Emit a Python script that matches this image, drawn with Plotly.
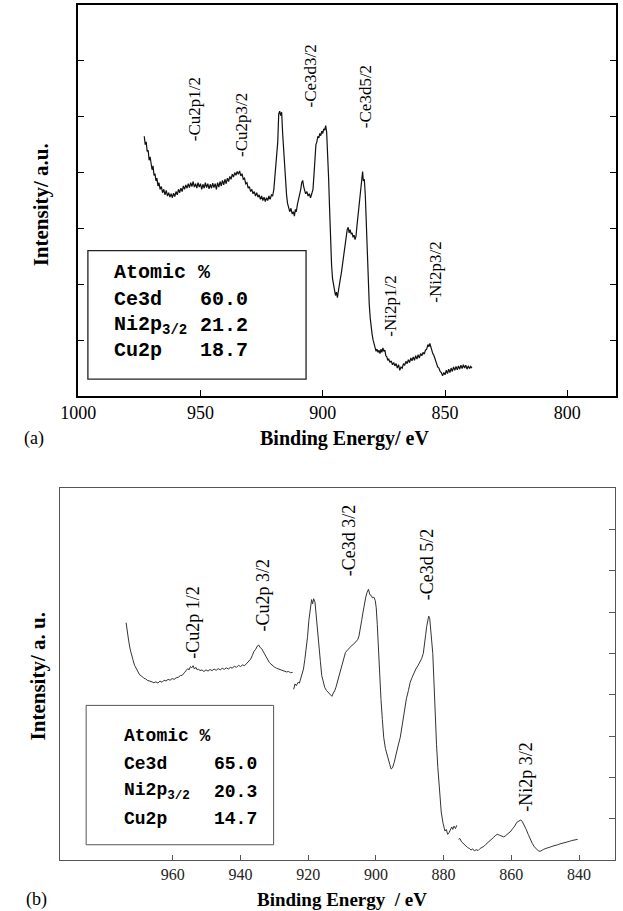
import plotly.graph_objects as go

W, H = 623, 911

# ---------------- Panel (a) data ----------------
be_a = [973.0, 972.6, 972.2, 971.8, 971.4, 971.0, 970.6, 970.2, 969.8, 969.4, 969.0, 968.6, 968.2, 967.8,
        967.4, 967.0, 966.5, 966.0, 965.5, 965.0, 964.5, 964.0, 963.5, 963.0, 962.5, 962.0, 961.5, 961.0,
        960.5, 960.0, 959.5, 959.0, 958.5, 958.0, 957.5, 957.0, 956.5, 956.0, 955.5, 955.0, 954.5, 954.0,
        953.5, 953.0, 952.5, 952.0, 951.5, 951.0, 950.5, 950.0, 949.5, 949.0, 948.5, 948.0, 947.5, 947.0,
        946.5, 946.0, 945.5, 945.0, 944.5, 944.0, 943.5, 943.0, 942.5, 942.0, 941.5, 941.0, 940.5, 940.0,
        939.5, 939.0, 938.5, 938.0, 937.5, 937.0, 936.5, 936.0, 935.5, 935.0, 934.5, 934.0, 933.5, 933.0,
        932.5, 932.0, 931.5, 931.0, 930.5, 930.0, 929.5, 929.0, 928.5, 928.0, 927.5, 927.0, 926.5, 926.0,
        925.5, 925.0, 924.5, 924.0, 923.5, 923.0, 922.5, 922.0, 921.5, 921.0, 920.5, 920.0, 919.6, 919.2,
        918.8, 918.4, 918.0, 917.6, 917.2, 916.8, 916.4, 916.0, 915.6, 915.2, 914.8, 914.4, 914.0, 913.5,
        913.0, 912.5, 912.0, 911.6, 911.2, 910.8, 910.4, 910.0, 909.5, 909.0, 908.6, 908.2, 907.8, 907.4,
        907.0, 906.5, 906.0, 905.5, 905.0, 904.5, 904.0, 903.6, 903.2, 902.8, 902.4, 902.0, 901.6, 901.2,
        900.8, 900.4, 900.0, 899.6, 899.2, 898.8, 898.4, 898.0, 897.6, 897.2, 896.8, 896.4, 896.0, 895.6,
        895.2, 894.8, 894.4, 894.0, 893.6, 893.2, 892.8, 892.4, 892.0, 891.6, 891.2, 890.8, 890.4, 890.0,
        889.6, 889.2, 888.8, 888.4, 888.0, 887.6, 887.2, 886.8, 886.4, 886.0, 885.6, 885.2, 884.8, 884.4,
        884.0, 883.7, 883.4, 883.0, 882.6, 882.2, 881.8, 881.4, 881.0, 880.6, 880.2, 879.8, 879.4, 879.0,
        878.6, 878.2, 877.8, 877.4, 877.0, 876.6, 876.2, 875.8, 875.4, 875.0, 874.6, 874.2, 873.8, 873.4,
        873.0, 872.5, 872.0, 871.5, 871.0, 870.5, 870.0, 869.5, 869.0, 868.5, 868.0, 867.5, 867.0, 866.5,
        866.0, 865.5, 865.0, 864.5, 864.0, 863.5, 863.0, 862.5, 862.0, 861.5, 861.0, 860.5, 860.0, 859.5,
        859.0, 858.5, 858.0, 857.5, 857.0, 856.6, 856.2, 855.8, 855.4, 855.0, 854.5, 854.0, 853.5, 853.0,
        852.5, 852.0, 851.5, 851.0, 850.5, 850.0, 849.5, 849.0, 848.5, 848.0, 847.5, 847.0, 846.5, 846.0,
        845.5, 845.0, 844.5, 844.0, 843.5, 843.0, 842.5, 842.0, 841.5, 841.0, 840.5, 840.0, 839.5, 839.0]
int_a = [4.65, 4.50, 4.55, 4.38, 4.40, 4.22, 4.28, 4.10, 4.05, 4.12, 3.95, 3.98, 3.85, 3.90,
         3.76, 3.82, 3.70, 3.75, 3.64, 3.70, 3.60, 3.68, 3.58, 3.64, 3.56, 3.62, 3.55, 3.63,
         3.57, 3.66, 3.60, 3.70, 3.64, 3.72, 3.66, 3.76, 3.70, 3.78, 3.72, 3.80, 3.73, 3.82,
         3.75, 3.84, 3.74, 3.80, 3.72, 3.82, 3.74, 3.80, 3.70, 3.79, 3.72, 3.82, 3.73, 3.80,
         3.71, 3.79, 3.72, 3.81, 3.73, 3.80, 3.70, 3.82, 3.74, 3.84, 3.76, 3.86, 3.78, 3.88,
         3.80, 3.90, 3.84, 3.93, 3.88, 3.97, 3.92, 4.00, 3.95, 4.02, 3.97, 4.03, 3.94, 3.98,
         3.88, 3.90, 3.80, 3.82, 3.72, 3.75, 3.66, 3.70, 3.62, 3.66, 3.58, 3.64, 3.56, 3.60,
         3.52, 3.58, 3.50, 3.56, 3.48, 3.55, 3.50, 3.58, 3.52, 3.60, 3.58, 3.70, 3.88, 4.10,
         4.30, 4.55, 5.05, 5.10, 5.02, 5.08, 4.70, 4.40, 4.05, 3.80, 3.60, 3.45, 3.38, 3.30,
         3.36, 3.26, 3.30, 3.22, 3.34, 3.30, 3.42, 3.50, 3.56, 3.70, 3.82, 3.86, 3.75, 3.70,
         3.62, 3.66, 3.58, 3.62, 3.55, 3.62, 3.70, 3.95, 4.30, 4.50, 4.55, 4.65, 4.62, 4.70,
         4.66, 4.74, 4.70, 4.78, 4.76, 4.84, 4.72, 4.40, 3.90, 3.35, 2.75, 2.35, 2.10, 1.98,
         1.90, 1.80, 1.86, 1.76, 1.88, 1.96, 2.10, 2.20, 2.35, 2.48, 2.58, 2.70, 2.85, 2.98,
         3.02, 2.92, 2.98, 2.90, 2.92, 2.84, 2.88, 2.80, 2.86, 3.05, 3.22, 3.40, 3.60, 3.82,
         3.92, 4.02, 3.85, 3.88, 3.60, 3.00, 2.45, 1.95, 1.65, 1.40, 1.22, 1.10, 1.00, 0.92,
         0.86, 0.80, 0.84, 0.78, 0.82, 0.76, 0.84, 0.78, 0.86, 0.80, 0.82, 0.72, 0.70, 0.64,
         0.66, 0.60, 0.63, 0.56, 0.60, 0.54, 0.58, 0.50, 0.56, 0.46, 0.52, 0.50, 0.58, 0.55,
         0.62, 0.58, 0.65, 0.60, 0.68, 0.63, 0.70, 0.64, 0.72, 0.66, 0.74, 0.68, 0.76, 0.72,
         0.78, 0.75, 0.82, 0.84, 0.92, 0.88, 0.94, 0.86, 0.84, 0.76, 0.72, 0.64, 0.60, 0.52,
         0.50, 0.44, 0.42, 0.36, 0.42, 0.38, 0.46, 0.40, 0.48, 0.42, 0.50, 0.44, 0.52, 0.46,
         0.53, 0.47, 0.54, 0.48, 0.55, 0.49, 0.56, 0.50, 0.55, 0.48, 0.54, 0.49, 0.53, 0.50]

peaks_a = ["-Cu2p1/2", "-Cu2p3/2", "-Ce3d3/2", "-Ce3d5/2", "-Ni2p1/2", "-Ni2p3/2"]
peaks_a_x = [952.4, 933.3, 904.8, 882.5, 872.2, 854.0]
peaks_a_y = [4.52, 4.25, 5.12, 4.76, 1.03, 1.63]

comp_a_names = ["Ce3d", "Ni2p<sub>3/2</sub>", "Cu2p"]
comp_a_vals = ["60.0", "21.2", "18.7"]

xticks_a = [1000, 950, 900, 850, 800]
yticks_a = [1, 2, 3, 4, 5, 6]

# ---------------- Panel (b) data ----------------
be_b = [973.8, 973.4, 973.0, 972.6, 972.2, 971.8, 971.3, 970.8, 970.3, 969.8, 969.2, 968.6, 968.0, 967.4,
        966.8, 966.2, 965.6, 965.0, 964.4, 963.8, 963.2, 962.6, 962.0, 961.4, 960.8, 960.2, 959.6, 959.0,
        958.4, 957.8, 957.2, 956.6, 956.0, 955.6, 955.2, 954.8, 954.4, 954.0, 953.6, 953.2, 952.8, 952.4,
        952.0, 951.4, 950.8, 950.2, 949.6, 949.0, 948.4, 947.8, 947.2, 946.6, 946.0, 945.4, 944.8, 944.2,
        943.6, 943.0, 942.4, 941.8, 941.2, 940.6, 940.0, 939.4, 938.8, 938.2, 937.6, 937.0, 936.5, 936.0,
        935.5, 935.0, 934.6, 934.2, 933.8, 933.4, 933.0, 932.5, 932.0, 931.5, 931.0, 930.5, 930.0, 929.4,
        928.8, 928.2, 927.6, 927.0, 926.4, 925.8, 925.2, 924.6, None,
        924.3, 923.9, 923.5, 923.0, 922.6, 922.2, 921.8, 921.4, 921.0, 920.6, 920.2, 919.8, 919.4, 919.0,
        918.7, 918.4, 918.0, 917.7, 917.4, 917.1, 916.8, 916.4, 916.0, 915.6, 915.1, 914.6, 914.2, 913.8,
        913.4, 913.0, 912.6, 912.2, 911.8, 911.4, 911.0, 910.6, 910.2, 909.8, 909.4, 909.0, 908.6, 908.2,
        907.8, 907.4, 907.0, 906.6, 906.2, 905.8, 905.4, 905.0, 904.6, 904.2, 903.8, 903.4, 903.0, 902.6,
        902.2, 901.8, 901.4, 901.0, 900.6, 900.2, 899.9, 899.6, 899.3, 898.9, 898.5, 898.1, 897.7, 897.2,
        896.8, 896.3, 895.9, 895.5, 895.1, 894.6, 894.0, 893.4, 892.8, 892.2, 891.6, 891.0, 890.4, 889.9,
        889.3, 888.8, 888.2, 887.6, 887.0, 886.5, 886.0, 885.6, 885.3, 885.0, 884.7, 884.4, 884.1, 883.8,
        883.5, 883.2, 882.9, 882.5, 882.1, 881.7, 881.2, 880.7, 880.2, 879.6, 879.2, 878.8, 878.4, 878.0,
        877.6, 877.3, 876.9, 876.5, 876.1, None,
        875.6, 875.2, 874.7, 874.2, 873.9, 873.4, 872.9, 872.4, 871.9, 871.4, 870.9, 870.4, 869.8, 869.2,
        868.6, 868.1, 867.5, 866.9, 866.3, 865.8, 865.2, 864.6, 864.1, 863.5, 862.9, 862.3, 861.8, 861.2,
        860.6, 860.1, 859.6, 859.0, 858.4, 857.8, 857.2, 856.7, 856.1, 855.6, 855.0, 854.4, 853.8, 853.2,
        852.6, 852.0, 851.5, 851.0, 850.4, 849.8, 849.2, 848.6, 848.0, 847.4, 846.8, 846.3, 845.6, 845.0,
        844.4, 843.6, 842.9, 842.2, 841.4, 840.4]
int_b = [5.74, 5.45, 5.28, 5.10, 4.95, 4.85, 4.71, 4.62, 4.56, 4.48, 4.45, 4.40, 4.38, 4.34,
         4.33, 4.30, 4.29, 4.31, 4.28, 4.33, 4.30, 4.35, 4.33, 4.37, 4.35, 4.39, 4.37, 4.41,
         4.42, 4.46, 4.47, 4.53, 4.58, 4.63, 4.60, 4.68, 4.65, 4.70, 4.62, 4.66, 4.60, 4.62,
         4.58, 4.60, 4.56, 4.60, 4.57, 4.61, 4.58, 4.62, 4.59, 4.63, 4.60, 4.64, 4.61, 4.65,
         4.62, 4.66, 4.64, 4.69, 4.66, 4.71, 4.68, 4.72, 4.70, 4.76, 4.80, 4.86, 4.95, 5.05,
         5.10, 5.18, 5.20, 5.14, 5.12, 5.06, 4.98, 4.90, 4.84, 4.78, 4.74, 4.70, 4.67, 4.64,
         4.62, 4.60, 4.58, 4.57, 4.55, 4.56, 4.53, 4.54, None,
         4.13, 4.26, 4.22, 4.30, 4.28, 4.38, 4.48, 4.62, 4.85, 5.10, 5.40, 5.80, 6.05, 6.30,
         6.20, 6.32, 6.24, 6.00, 5.78, 5.45, 5.12, 4.80, 4.46, 4.30, 4.17, 4.10, 4.07, 4.02,
         4.00, 3.96, 4.04, 4.09, 4.18, 4.30, 4.40, 4.52, 4.66, 4.80, 4.90, 5.02, 5.06, 5.10,
         5.14, 5.18, 5.20, 5.22, 5.26, 5.28, 5.33, 5.42, 5.58, 5.80, 6.00, 6.20, 6.36, 6.48,
         6.55, 6.42, 6.40, 6.34, 6.36, 6.28, 6.10, 5.70, 5.12, 4.50, 3.88, 3.40, 2.97, 2.70,
         2.56, 2.40, 2.31, 2.20, 2.23, 2.36, 2.60, 2.78, 2.97, 3.30, 3.63, 3.90, 4.10, 4.29,
         4.42, 4.52, 4.62, 4.70, 4.78, 4.87, 5.00, 5.20, 5.45, 5.65, 5.80, 5.90, 5.84, 5.60,
         5.30, 5.00, 4.40, 3.47, 2.80, 2.23, 1.65, 1.16, 0.90, 0.70, 0.74, 0.62, 0.66, 0.72,
         0.80, 0.74, 0.82, 0.76, 0.84, None,
         0.50, 0.52, 0.44, 0.40, 0.37, 0.34, 0.30, 0.28, 0.24, 0.27, 0.22, 0.25, 0.23, 0.28,
         0.30, 0.33, 0.38, 0.42, 0.47, 0.50, 0.55, 0.60, 0.62, 0.60, 0.58, 0.56, 0.58, 0.62,
         0.66, 0.70, 0.76, 0.82, 0.91, 0.94, 0.97, 0.92, 0.83, 0.74, 0.62, 0.50, 0.40, 0.32,
         0.26, 0.22, 0.21, 0.24, 0.26, 0.28, 0.29, 0.31, 0.33, 0.34, 0.36, 0.37, 0.39, 0.40,
         0.42, 0.44, 0.45, 0.47, 0.48, 0.50]

peaks_b = ["-Cu2p 1/2", "-Cu2p 3/2", "-Ce3d 3/2", "-Ce3d 5/2", "-Ni2p 3/2"]
peaks_b_x = [954.1, 933.4, 908.0, 884.7, 855.5]
peaks_b_y = [4.83, 5.49, 6.81, 6.23, 1.11]

comp_b_names = ["Ce3d", "Ni2p<sub>3/2</sub>", "Cu2p"]
comp_b_vals = ["65.0", "20.3", "14.7"]

xticks_b = [960, 940, 920, 900, 880, 860, 840]
yticks_b = [1, 2, 3, 4, 5, 6, 7, 8]

# ---------------- layout geometry (pixels) ----------------
def px_x(p):
    return p / W

def px_y(p):
    return 1 - p / H

A_L, A_R, A_T, A_B = 62, 616, 5, 396
B_L, B_R, B_T, B_B = 43, 615, 488, 860

SERIF = "Liberation Serif"
MONO = "Liberation Mono"

fig = go.Figure()
fig.add_trace(go.Scatter(x=be_a, y=int_a, mode="lines", xaxis="x", yaxis="y",
                         line=dict(color="#111111", width=1.2), showlegend=False))
fig.add_trace(go.Scatter(x=be_b, y=int_b, mode="lines", xaxis="x2", yaxis="y2",
                         line=dict(color="#333333", width=1.0), showlegend=False,
                         connectgaps=False))

axis_common = dict(showgrid=False, zeroline=False, showline=True, linecolor="black",
                   ticks="inside", tickcolor="black")
axis_gray = {**axis_common, "linecolor": "#555555", "tickcolor": "#555555"}

fig.update_layout(
    width=W, height=H, margin=dict(l=0, r=0, t=0, b=0),
    paper_bgcolor="white", plot_bgcolor="white",
    xaxis=dict(domain=[px_x(A_L), px_x(A_R)], range=[1000, 780], anchor="y",
               tickvals=xticks_a, ticklen=6, linewidth=1.5, mirror=True,
               tickfont=dict(family=SERIF, size=18, color="black"), **axis_common),
    yaxis=dict(domain=[px_y(A_B), px_y(A_T)], range=[0, 7], anchor="x",
               tickvals=yticks_a, ticklen=6, linewidth=1.5, mirror="ticks",
               showticklabels=False, **axis_common),
    xaxis2=dict(domain=[px_x(B_L), px_x(B_R)], range=[993.4, 829.3], anchor="y2",
                tickvals=xticks_b, ticklen=5, linewidth=1.2, mirror=True,
                tickfont=dict(family=SERIF, size=16, color="#222222"), **axis_gray),
    yaxis2=dict(domain=[px_y(B_B), px_y(B_T)], range=[0, 9], anchor="x2", side="right",
                tickvals=yticks_b, ticklen=6, linewidth=1.2, mirror=True,
                showticklabels=False, **axis_gray),
)

ann = []
# peak labels
for t, x, y in zip(peaks_a, peaks_a_x, peaks_a_y):
    ann.append(dict(x=x, y=y, xref="x", yref="y", text=t, textangle=-90, showarrow=False,
                    xanchor="center", yanchor="bottom",
                    font=dict(family=SERIF, size=17, color="black")))
for t, x, y in zip(peaks_b, peaks_b_x, peaks_b_y):
    ann.append(dict(x=x, y=y, xref="x2", yref="y2", text=t, textangle=-90, showarrow=False,
                    xanchor="center", yanchor="bottom",
                    font=dict(family=SERIF, size=18, color="black")))

# composition boxes
fig.add_shape(type="rect", xref="x domain", yref="y domain", x0=0.018, x1=0.4235, y0=0.043, y1=0.372,
              line=dict(color="#222222", width=1.3), fillcolor="rgba(0,0,0,0)")
fig.add_shape(type="rect", xref="x2 domain", yref="y2 domain", x0=0.0475, x1=0.385, y0=0.041, y1=0.4156,
              line=dict(color="#555555", width=1.0), fillcolor="rgba(0,0,0,0)")

rows_a_y = [0.247, 0.181, 0.116]
ann.append(dict(x=0.063, y=0.315, xref="x domain", yref="y domain", text="<b>Atomic %</b>",
                showarrow=False, xanchor="left", yanchor="middle",
                font=dict(family=MONO, size=20, color="black")))
for n, v, yy in zip(comp_a_names, comp_a_vals, rows_a_y):
    ann.append(dict(x=0.063, y=yy, xref="x domain", yref="y domain", text="<b>" + n + "</b>",
                    showarrow=False, xanchor="left", yanchor="middle",
                    font=dict(family=MONO, size=20, color="black")))
    ann.append(dict(x=0.2225, y=yy, xref="x domain", yref="y domain", text="<b>" + v + "</b>",
                    showarrow=False, xanchor="left", yanchor="middle",
                    font=dict(family=MONO, size=20, color="black")))

rows_b_y = [0.257, 0.183, 0.110]
ann.append(dict(x=0.1125, y=0.332, xref="x2 domain", yref="y2 domain", text="<b>Atomic %</b>",
                showarrow=False, xanchor="left", yanchor="middle",
                font=dict(family=MONO, size=18, color="black")))
for n, v, yy in zip(comp_b_names, comp_b_vals, rows_b_y):
    ann.append(dict(x=0.1125, y=yy, xref="x2 domain", yref="y2 domain", text="<b>" + n + "</b>",
                    showarrow=False, xanchor="left", yanchor="middle",
                    font=dict(family=MONO, size=18, color="black")))
    ann.append(dict(x=0.2746, y=yy, xref="x2 domain", yref="y2 domain", text="<b>" + v + "</b>",
                    showarrow=False, xanchor="left", yanchor="middle",
                    font=dict(family=MONO, size=18, color="black")))

# axis titles and panel labels
ann.append(dict(x=px_x(336), y=px_y(438), xref="paper", yref="paper", text="<b>Binding Energy/ eV</b>",
                showarrow=False, xanchor="center", yanchor="middle",
                font=dict(family=SERIF, size=20, color="black")))
ann.append(dict(x=px_x(24), y=px_y(205), xref="paper", yref="paper", text="<b>Intensity/ a.u.</b>",
                textangle=-90, showarrow=False, xanchor="center", yanchor="middle",
                font=dict(family=SERIF, size=21, color="black")))
ann.append(dict(x=px_x(4), y=px_y(438), xref="paper", yref="paper", text="(a)",
                showarrow=False, xanchor="left", yanchor="middle",
                font=dict(family=SERIF, size=18, color="black")))

ann.append(dict(x=px_x(334), y=px_y(899), xref="paper", yref="paper", text="<b>Binding Energy  / eV</b>",
                showarrow=False, xanchor="center", yanchor="middle",
                font=dict(family=SERIF, size=19, color="black")))
ann.append(dict(x=px_x(21), y=px_y(676), xref="paper", yref="paper", text="<b>Intensity/ a. u.</b>",
                textangle=-90, showarrow=False, xanchor="center", yanchor="middle",
                font=dict(family=SERIF, size=21, color="black")))
ann.append(dict(x=px_x(6), y=px_y(899), xref="paper", yref="paper", text="(b)",
                showarrow=False, xanchor="left", yanchor="middle",
                font=dict(family=SERIF, size=18, color="black")))

fig.update_layout(annotations=ann)
fig.write_html("out.html")
